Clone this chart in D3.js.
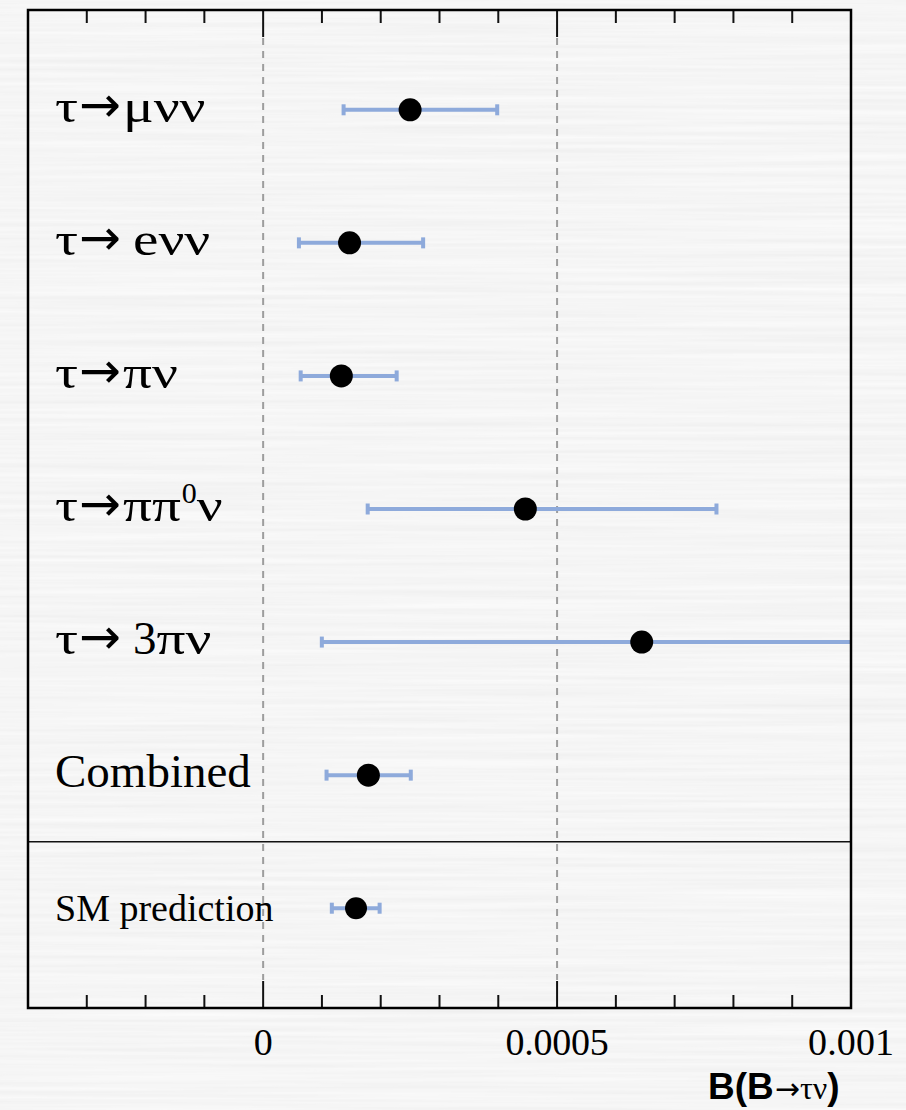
<!DOCTYPE html>
<html>
<head>
<meta charset="utf-8">
<script src="https://cdn.jsdelivr.net/npm/d3@7"></script>
<style>
  html, body { margin: 0; padding: 0; background: #e8e8e8; }
  svg { display: block; }
</style>
</head>
<body>
<svg id="chart" width="906" height="1110"></svg>
<script>
// Measurements of B(B -> tau nu), one row per tau decay channel
const channels = ["τ→μνν", "τ→ eνν", "τ→πν", "τ→ππ0ν", "τ→ 3πν", "Combined", "SM prediction"];
const central  = [0.000250, 0.000147, 0.000133, 0.000446, 0.000644, 0.000179, 0.000158];
const errLow   = [0.000136, 0.000060, 0.000063, 0.000177, 0.000099, 0.000107, 0.000116];
const errHigh  = [0.000399, 0.000273, 0.000228, 0.000772, 0.001150, 0.000252, 0.000199];
const majorTicks = [0, 0.0005, 0.001];
const majorTickLabels = ["0", "0.0005", "0.001"];

const W = 906, H = 1110;
const frame = { left: 28, right: 851, top: 10, bottom: 1008 };
const serif = "'Liberation Serif', 'Times New Roman', serif";
const sans = "'Liberation Sans', Arial, sans-serif";
const greekStretch = 1.22;   // Greek set wider, as in a Symbol face

const svg = d3.select("#chart");

// brushed-metal backdrop
const defs = svg.append("defs");
const f = defs.append("filter").attr("id", "brushed")
  .attr("x", 0).attr("y", 0).attr("width", "100%").attr("height", "100%");
f.append("feTurbulence").attr("type", "fractalNoise")
  .attr("baseFrequency", "0.003 0.22").attr("numOctaves", 3).attr("seed", 7)
  .attr("result", "noise");
f.append("feColorMatrix").attr("in", "noise").attr("type", "matrix")
  .attr("values", [
    0.12, 0, 0, 0, 0.855,
    0.12, 0, 0, 0, 0.855,
    0.12, 0, 0, 0, 0.855,
    0, 0, 0, 0, 1
  ].join(" "));
svg.append("rect").attr("width", W).attr("height", H).attr("filter", "url(#brushed)");

defs.append("clipPath").attr("id", "plotClip")
  .append("rect")
  .attr("x", frame.left).attr("y", frame.top)
  .attr("width", frame.right - frame.left).attr("height", frame.bottom - frame.top);

const x = d3.scaleLinear().domain([-0.0004, 0.001]).range([frame.left, frame.right]);
const y = d3.scalePoint().domain(channels).range([frame.top, frame.bottom]).padding(0.75);

// dashed reference lines at the labelled values
svg.append("g").selectAll("line").data(majorTicks.slice(0, 2)).join("line")
  .attr("x1", d => x(d)).attr("x2", d => x(d))
  .attr("y1", frame.top + 28).attr("y2", frame.bottom - 28)
  .attr("stroke", "#9d9d9d").attr("stroke-width", 2)
  .attr("stroke-dasharray", "7,6");

// minor and major ticks on top and bottom edges
const minor = x.ticks(14).filter(t => !majorTicks.some(m => Math.abs(m - t) < 1e-9));
const tg = svg.append("g").attr("stroke", "#111").attr("stroke-width", 2);
[frame.top, frame.bottom].forEach((edge, i) => {
  const dir = i === 0 ? 1 : -1;
  tg.selectAll(null).data(minor).join("line")
    .attr("x1", d => x(d)).attr("x2", d => x(d))
    .attr("y1", edge).attr("y2", edge + dir * 13);
  tg.selectAll(null).data(majorTicks).join("line")
    .attr("x1", d => x(d)).attr("x2", d => x(d))
    .attr("y1", edge).attr("y2", edge + dir * 27);
});

// separator between measurements and prediction
const sepY = (y("Combined") + y("SM prediction")) / 2;
svg.append("line")
  .attr("x1", frame.left).attr("x2", frame.right)
  .attr("y1", sepY).attr("y2", sepY)
  .attr("stroke", "#111").attr("stroke-width", 1.5);

// error bars and central values
const rows = channels.map((c, i) => ({ c, v: central[i], lo: errLow[i], hi: errHigh[i] }));
const barColor = "#8eaadb";
const pts = svg.append("g").attr("clip-path", "url(#plotClip)");
pts.selectAll("line.err").data(rows).join("line").attr("class", "err")
  .attr("x1", d => x(d.lo)).attr("x2", d => x(d.hi))
  .attr("y1", d => y(d.c)).attr("y2", d => y(d.c))
  .attr("stroke", barColor).attr("stroke-width", 4);
pts.selectAll("rect.capL").data(rows).join("rect").attr("class", "capL")
  .attr("x", d => x(d.lo) - 1.5).attr("y", d => y(d.c) - 5.5)
  .attr("width", 4).attr("height", 11).attr("fill", barColor);
pts.selectAll("rect.capH").data(rows.filter(d => d.hi <= 0.001)).join("rect").attr("class", "capH")
  .attr("x", d => x(d.hi) - 2.5).attr("y", d => y(d.c) - 5.5)
  .attr("width", 4).attr("height", 11).attr("fill", barColor);
pts.selectAll("circle").data(rows).join("circle")
  .attr("cx", d => x(d.v)).attr("cy", d => y(d.c))
  .attr("r", d => d.c === "SM prediction" ? 11 : 11.5)
  .attr("fill", "#000");

// channel labels; the arrow is set in a sans face for a long, heavy stroke
const labels = svg.append("g").attr("font-family", serif).attr("fill", "#000");
function widen(tspan) {
  const n = tspan.node().getComputedTextLength();
  tspan.attr("textLength", n * greekStretch).attr("lengthAdjust", "spacingAndGlyphs");
  return tspan;
}
rows.forEach(d => {
  const small = d.c === "SM prediction";
  const t = labels.append("text")
    .attr("x", 55).attr("y", y(d.c) + (small ? 13 : 12))
    .attr("font-size", small ? 38 : 47);
  const parts = d.c.split("→");
  if (parts.length === 1) { t.text(d.c); return; }
  widen(t.append("tspan").text(parts[0]));
  t.append("tspan").attr("font-family", "'DejaVu Sans', sans-serif")
    .attr("font-size", 50).attr("dx", 1).text("→");
  const rest = parts[1].replace(/^ /, "");
  const gap = parts[1].startsWith(" ") ? 12 : 2;
  const m = rest.match(/^([0-9]*)(.*)$/);
  let lead = t.append("tspan").attr("dx", gap);
  if (m[1]) { lead.text(m[1]); lead = t.append("tspan"); }
  const greek = m[2];
  if (greek.includes("0")) {
    const [a, b] = greek.split("0");
    widen(lead.text(a));
    t.append("tspan").attr("font-size", 30).attr("dy", -18).attr("dx", 1).text("0");
    widen(t.append("tspan").attr("dy", 18).text(b));
  } else {
    widen(lead.text(greek));
  }
});

// frame
svg.append("rect")
  .attr("x", frame.left).attr("y", frame.top)
  .attr("width", frame.right - frame.left).attr("height", frame.bottom - frame.top)
  .attr("fill", "none").attr("stroke", "#000").attr("stroke-width", 2.5);

// tick labels
svg.append("g").selectAll("text").data(majorTicks).join("text")
  .attr("x", d => x(d)).attr("y", 1055)
  .attr("text-anchor", "middle")
  .attr("font-family", serif)
  .attr("font-size", 38)
  .attr("textLength", (d, i) => majorTickLabels[i].length > 1 ? majorTickLabels[i].length * 17.2 : null)
  .text((d, i) => majorTickLabels[i]);

// axis title
const title = svg.append("text").attr("x", 708).attr("y", 1099).attr("fill", "#000");
title.append("tspan").attr("font-family", sans)
  .attr("font-weight", "bold").attr("font-size", 37).text("B(B");
title.append("tspan").attr("font-family", "'DejaVu Sans', sans-serif")
  .attr("font-size", 30).attr("dx", 1).text("→");
title.append("tspan").attr("font-family", serif)
  .attr("font-size", 32).text("τν");
title.append("tspan").attr("font-family", sans)
  .attr("font-weight", "bold").attr("font-size", 37).text(")");
</script>
</body>
</html>
